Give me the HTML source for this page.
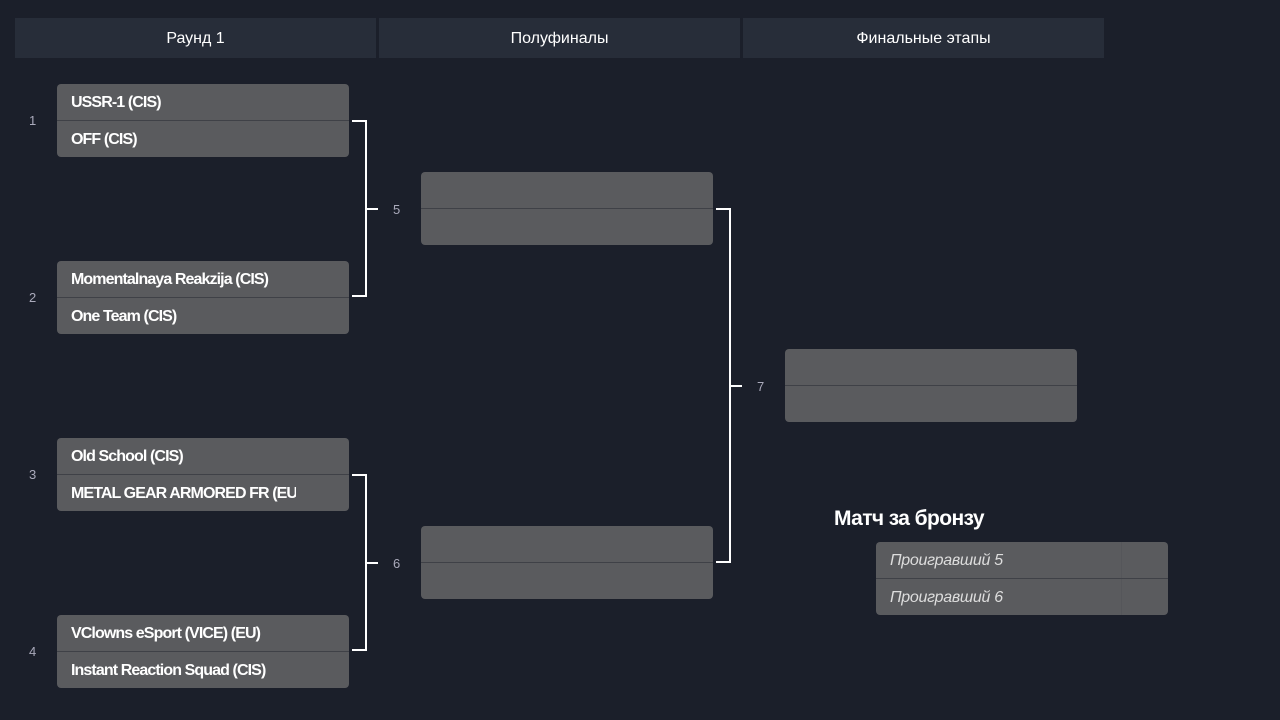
<!DOCTYPE html>
<html><head><meta charset="utf-8"><style>
body{margin:0;width:1280px;height:720px;background:#1b1f2a;position:relative;overflow:hidden;font-family:"Liberation Sans","DejaVu Sans",sans-serif;}
.h{position:absolute;top:18px;height:40px;background:#272d39;color:#fff;font-size:16px;line-height:42px;text-align:center;}
.m{position:absolute;width:292px;height:73px;background:#5a5b5e;border-radius:4px;overflow:hidden;}
.m .r{height:36px;border-bottom:1px solid #3f4147;}
.m .r:last-child{border-bottom:none;}
.m .r span{display:block;height:36px;line-height:38px;padding-left:14px;color:#fff;font-size:16px;font-weight:bold;letter-spacing:-0.9px;white-space:nowrap;overflow:hidden;width:225px;}
.n{position:absolute;color:#aab;font-size:13px;}
.l{position:absolute;background:#fff;}
</style></head><body>
<div class="h" style="left:15px;width:361px">Раунд 1</div>
<div class="h" style="left:379px;width:361px">Полуфиналы</div>
<div class="h" style="left:743px;width:361px">Финальные этапы</div>

<div class="n" style="left:29px;top:113px">1</div>
<div class="n" style="left:29px;top:290px">2</div>
<div class="n" style="left:29px;top:467px">3</div>
<div class="n" style="left:29px;top:644px">4</div>
<div class="m" style="left:57px;top:84px"><div class="r"><span>USSR-1 (CIS)</span></div><div class="r"><span>OFF (CIS)</span></div></div>
<div class="m" style="left:57px;top:261px"><div class="r"><span>Momentalnaya Reakzija (CIS)</span></div><div class="r"><span>One Team (CIS)</span></div></div>
<div class="m" style="left:57px;top:438px"><div class="r"><span>Old School (CIS)</span></div><div class="r"><span>METAL GEAR ARMORED FR (EU)</span></div></div>
<div class="m" style="left:57px;top:615px"><div class="r"><span>VClowns eSport (VICE) (EU)</span></div><div class="r"><span>Instant Reaction Squad (CIS)</span></div></div>

<div class="m" style="left:421px;top:172px"><div class="r"></div><div class="r"></div></div>
<div class="m" style="left:421px;top:526px"><div class="r"></div><div class="r"></div></div>
<div class="m" style="left:785px;top:349px"><div class="r"></div><div class="r"></div></div>

<div class="l" style="left:352px;top:120px;width:15px;height:2px"></div>
<div class="l" style="left:365px;top:120px;width:2px;height:177px"></div>
<div class="l" style="left:352px;top:295px;width:15px;height:2px"></div>
<div class="l" style="left:365px;top:208px;width:13px;height:2px"></div>
<div class="n" style="left:393px;top:202px">5</div>
<div class="l" style="left:352px;top:474px;width:15px;height:2px"></div>
<div class="l" style="left:365px;top:474px;width:2px;height:177px"></div>
<div class="l" style="left:352px;top:649px;width:15px;height:2px"></div>
<div class="l" style="left:365px;top:562px;width:13px;height:2px"></div>
<div class="n" style="left:393px;top:556px">6</div>
<div class="l" style="left:716px;top:208px;width:15px;height:2px"></div>
<div class="l" style="left:729px;top:208px;width:2px;height:355px"></div>
<div class="l" style="left:716px;top:561px;width:15px;height:2px"></div>
<div class="l" style="left:729px;top:385px;width:13px;height:2px"></div>
<div class="n" style="left:757px;top:379px">7</div>

<div style="position:absolute;left:834px;top:507px;color:#fff;font-size:21px;font-weight:bold;letter-spacing:-0.6px">Матч за бронзу</div>
<div class="m" style="left:876px;top:542px">
<div class="r"><span style="font-weight:normal;font-style:italic;color:#ddd;width:231px;border-right:1px solid #55565a;letter-spacing:-0.3px">Проигравший 5</span></div>
<div class="r"><span style="font-weight:normal;font-style:italic;color:#ddd;width:231px;border-right:1px solid #55565a;letter-spacing:-0.3px">Проигравший 6</span></div>
</div>
</body></html>
